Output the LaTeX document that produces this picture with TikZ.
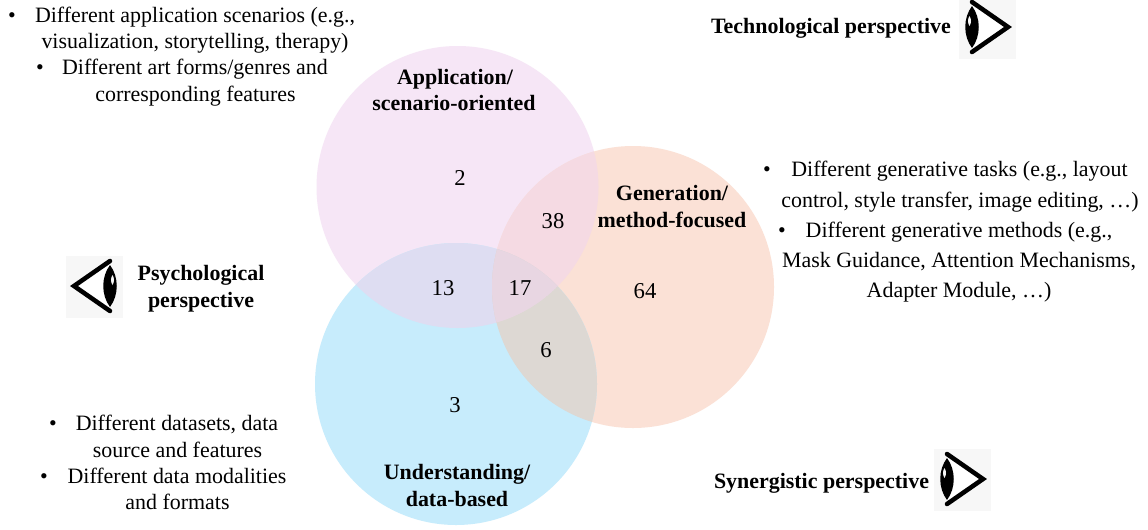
\documentclass[tikz,border=0pt]{standalone}
\usepackage{fontspec}
\setmainfont{Liberation Serif}
\usetikzlibrary{calc}
\definecolor{cpink}{HTML}{F6E6F6}
\definecolor{corange}{HTML}{FBE1D6}
\definecolor{cblue}{HTML}{C7ECFC}
\definecolor{cpb}{HTML}{DEDDF2}
\definecolor{cpo}{HTML}{F5DAE3}
\definecolor{cob}{HTML}{DDD8D3}
\definecolor{cpob}{HTML}{E8D6E2}
\definecolor{eyebg}{HTML}{F7F7F7}
\tikzset{
  x=0.75pt,y=-0.75pt,
  body/.style={font=\fontsize{16.45pt}{18pt}\selectfont,inner sep=0pt,anchor=base,text=black},
  head/.style={font=\fontsize{16.45pt}{18pt}\selectfont\bfseries,inner sep=0pt,anchor=base,text=black},
  num/.style={font=\fontsize{17pt}{18pt}\selectfont,inner sep=0pt,anchor=base,text=black},
  eyeline/.style={draw=black,line width=3.4pt,line cap=round,line join=miter}
}
\newcommand{\eyeicon}[3]{%
  \begin{scope}[shift={(#1,#2)},xscale=#3]
    \fill[eyebg] (-49,-30) rectangle (8,32);
    \fill[white] (-36,-25) -- (0,0) -- (-36,25) -- cycle;
    \draw[eyeline] (-36,-25) -- (0,0) -- (-36,25);
    \fill[black] (-36,-21) .. controls (-27,-9) and (-27,9) .. (-36,21) .. controls (-45,9) and (-45,-9) .. (-36,-21);
    \fill[eyebg] (-38.5,-11) .. controls (-36.5,-8) and (-36.5,-4) .. (-38.5,-1) .. controls (-40.5,-4) and (-40.5,-8) .. (-38.5,-11);
  \end{scope}}
\begin{document}
\begin{tikzpicture}
\useasboundingbox (0,0) rectangle (1148,529);
\fill[white] (0,0) rectangle (1148,529);
\coordinate (P) at (457.5,187);
\coordinate (O) at (633,287);
\coordinate (B) at (456,384);
\def\rr{141*0.75pt}
\fill[cpink] (P) circle[radius=\rr];
\fill[corange] (O) circle[radius=\rr];
\fill[cblue] (B) circle[radius=\rr];
\begin{scope}\clip (P) circle[radius=\rr]; \fill[cpo] (O) circle[radius=\rr]; \fill[cpb] (B) circle[radius=\rr];
  \clip (O) circle[radius=\rr]; \fill[cpob] (B) circle[radius=\rr];\end{scope}
\begin{scope}\clip (O) circle[radius=\rr]; \clip (B) circle[radius=\rr];
  \fill[cob] (O) circle[radius=\rr];
  \clip (P) circle[radius=\rr]; \fill[cpob] (P) circle[radius=\rr];\end{scope}

\eyeicon{1008}{27}{1}
\eyeicon{74}{286}{-1}
\eyeicon{983}{479}{1}

\node[head] (h1a) at (455,84) {Application/};
\node[head] (h1b) at (454,110) {scenario-oriented};
\node[head] (h2a) at (672,200) {Generation/};
\node[head] (h2b) at (672,227) {method-focused};
\node[head] (h3a) at (457,479) {Understanding/};
\node[head] (h3b) at (457,506) {data-based};
\node[head] (h4a) at (201,280) {Psychological};
\node[head] (h4b) at (201,307) {perspective};
\node[head] (h5) at (831,33) {Technological perspective};
\node[head] (h6) at (821.5,488) {Synergistic perspective};

\node[num] (n1) at (460,185) {2};
\node[num] (n2) at (553,228) {38};
\node[num] (n3) at (443,295) {13};
\node[num] (n4) at (520,295) {17};
\node[num] (n5) at (645,298) {64};
\node[num] (n6) at (546,357) {6};
\node[num] (n7) at (455,412) {3};

\node[body] (t1) at (195,22) {Different application scenarios (e.g.,};
\node[body] (t2) at (195,48) {visualization, storytelling, therapy)};
\node[body] (t3) at (195,74) {Different art forms/genres and};
\node[body] (t4) at (195.5,101) {corresponding features};
\node[body] (b1) at (12,22) {•};
\node[body] (b2) at (40,74) {•};

\node[body] (t5) at (959.5,176) {Different generative tasks (e.g., layout};
\node[body] (t6) at (960,207) {control, style transfer, image editing, …)};
\node[body] (t7) at (959,237) {Different generative methods (e.g.,};
\node[body] (t8) at (959,267) {Mask Guidance, Attention Mechanisms,};
\node[body] (t9) at (959,297) {Adapter Module, …)};
\node[body] (b3) at (767,176) {•};
\node[body] (b4) at (782,237) {•};

\node[body] (t10) at (177,430) {Different datasets, data};
\node[body] (t11) at (177.5,457) {source and features};
\node[body] (t12) at (177,483) {Different data modalities};
\node[body] (t13) at (177.5,509) {and formats};
\node[body] (b5) at (53,430) {•};
\node[body] (b6) at (44,483) {•};
\end{tikzpicture}
\end{document}
